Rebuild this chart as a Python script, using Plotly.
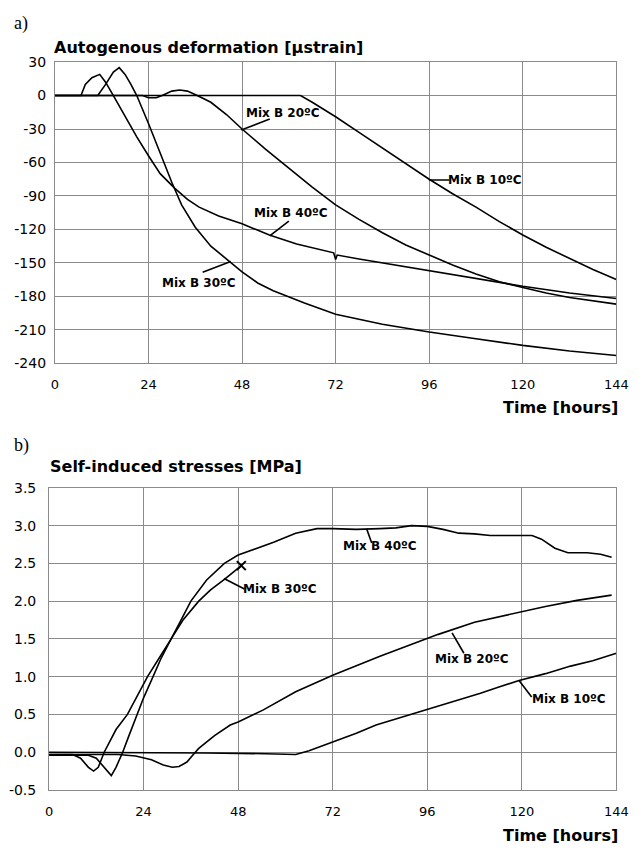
import plotly.graph_objects as go

# ---------------- Data: a) Autogenous deformation [µstrain] ----------------
t_def_10 = [0, 63, 66, 72, 78, 84, 90, 96, 102, 108, 114, 120, 126, 132, 138, 144]
def_10 = [0, 0, -6, -19, -33, -47, -61, -75, -88, -100, -113, -125, -136, -146, -156, -165]

t_def_20 = [0, 22.5, 24, 26, 27.5, 30, 32, 34, 36.5, 40, 44, 48, 54, 60, 66, 72, 78, 84,
            90, 96, 102, 108, 114, 120, 126, 132, 138, 144]
def_20 = [0, 0, -2, -2, 0, 4, 5, 4, 0, -6, -17, -30, -48, -65, -82, -98, -111, -123,
          -134, -143, -152, -160, -167, -172, -177, -181, -184, -187]

t_def_30 = [0, 11, 13, 15, 16.5, 18, 19.5, 21, 24, 27, 30, 32.5, 36, 40, 45, 48, 52, 56,
            64, 72, 84, 96, 108, 120, 132, 144]
def_30 = [0, 0, 10, 21, 25, 19, 10, 0, -25, -52, -78, -98, -118, -135, -149, -158, -168, -175,
          -186, -196, -205, -212, -218, -224, -229, -233]

t_def_40 = [0, 6.7, 7.8, 9.5, 11.5, 13, 15, 18, 21, 24, 27, 30.7, 34, 37, 42, 48, 55, 62,
            70, 71.5, 72, 72.4, 78, 84, 96, 108, 120, 132, 144]
def_40 = [0, 0, 10, 16, 19, 12, 0, -19, -37, -54, -70, -83, -93, -100, -108, -115, -125, -133,
          -140, -141, -147, -143, -146.5, -150, -157, -164, -171, -177, -182]

# ---------------- Data: b) Self-induced stresses [MPa] ----------------
t_str_10 = [0, 20, 40, 55, 62.6, 66, 72, 78, 83, 90, 95.5, 102, 109.5, 114, 119.3, 126,
            132.4, 138, 144]
str_10 = [0.0, 0.0, -0.01, -0.02, -0.03, 0.02, 0.13, 0.25, 0.36, 0.47, 0.56, 0.66, 0.78,
          0.86, 0.95, 1.04, 1.14, 1.21, 1.31]

t_str_20 = [0, 17.5, 22, 26, 29, 31.3, 33, 35, 36.3, 38, 42, 46, 48, 54.4, 62.6, 72, 84,
            95.5, 98.8, 108, 120, 126, 134, 142.8]
str_20 = [-0.03, -0.03, -0.05, -0.1, -0.17, -0.2, -0.19, -0.13, -0.05, 0.05, 0.22, 0.36,
          0.40, 0.56, 0.80, 1.02, 1.27, 1.49, 1.56, 1.72, 1.86, 1.93, 2.01, 2.08]

t_str_30 = [0, 10, 12, 14, 15.8, 17, 18.7, 20, 22, 24, 26.4, 28.5, 31, 34, 38, 41, 44.6, 48.8]
str_30 = [-0.04, -0.04, -0.08, -0.2, -0.31, -0.2, 0.0, 0.18, 0.45, 0.72, 1.0, 1.25, 1.5,
          1.75, 2.0, 2.15, 2.29, 2.47]

t_str_40 = [0, 6, 8, 10, 11.3, 12.5, 14, 17, 19.9, 22.5, 25, 28, 31, 33.5, 36, 40, 44.5,
            48, 52.8, 57, 62.6, 68, 72, 78, 84, 88, 92, 96, 100, 104, 108, 112, 118, 122.6,
            125, 128.4, 131.7, 136.6, 140, 142.8]
str_40 = [-0.03, -0.03, -0.08, -0.2, -0.25, -0.2, 0.0, 0.3, 0.5, 0.75, 1.0, 1.25, 1.5,
          1.75, 2.0, 2.28, 2.5, 2.61, 2.70, 2.78, 2.90, 2.96, 2.96, 2.95, 2.96, 2.97, 3.0,
          2.99, 2.95, 2.90, 2.89, 2.87, 2.87, 2.87, 2.82, 2.70, 2.64, 2.64, 2.62, 2.58]

x_ticks = [0, 24, 48, 72, 96, 120, 144]
y_ticks_a = [30, 0, -30, -60, -90, -120, -150, -180, -210, -240]
y_ticks_b = [3.5, 3.0, 2.5, 2.0, 1.5, 1.0, 0.5, 0.0, -0.5]
y_text_a = ["30", "0", "-30", "-60", "-90", "-120", "-150", "-180", "-210", "-240"]
y_text_b = ["3.5", "3.0", "2.5", "2.0", "1.5", "1.0", "0.5", "0.0", "-0.5"]

series_a = [(t_def_10, def_10), (t_def_20, def_20), (t_def_30, def_30), (t_def_40, def_40)]
series_b = [(t_str_10, str_10), (t_str_20, str_20), (t_str_30, str_30), (t_str_40, str_40)]

# labels: text, text x, text y, pointer from (x0,y0) to (x1,y1)
labels_a = [
    ("Mix B 20ºC", 58.4, -15.8, 47.8, -30.8, 55.1, -21.1),
    ("Mix B 10ºC", 110.4, -75.7, 95.9, -75.7, 101.1, -75.7),
    ("Mix B 40ºC", 60.5, -105.6, 55.1, -125.8, 60.0, -112.6),
    ("Mix B 30ºC", 36.9, -168.0, 45.1, -148.7, 37.9, -158.4),
]
labels_b = [
    ("Mix B 40ºC", 83.9, 2.73, 80.6, 2.96, 81.9, 2.77),
    ("Mix B 30ºC", 58.6, 2.16, 44.4, 2.30, 49.6, 2.16),
    ("Mix B 20ºC", 107.4, 1.23, 102.3, 1.58, 105.3, 1.31),
    ("Mix B 10ºC", 132.0, 0.70, 119.3, 0.95, 122.5, 0.73),
]

# page is 642x856; body keeps its default 8px margin (top/left), so the figure
# is placed at (8, 8): it may reach the right page edge, but not the bottom one.
OFF = 8
W, H = 642 - OFF, 856 - 2 * OFF
FONT = "DejaVu Sans, Arial, sans-serif"
SERIF = "Liberation Serif, Times New Roman, serif"
GRID = "#8a8a8a"

fig = go.Figure()
for t, v in series_a:
    fig.add_trace(go.Scatter(x=t, y=v, mode="lines", xaxis="x", yaxis="y",
                             line=dict(color="black", width=1.6), hoverinfo="skip"))
for t, v in series_b:
    fig.add_trace(go.Scatter(x=t, y=v, mode="lines", xaxis="x2", yaxis="y2",
                             line=dict(color="black", width=1.6), hoverinfo="skip"))
# X marker at end of 30 ºC stress curve
fig.add_trace(go.Scatter(x=[t_str_30[-1]], y=[str_30[-1]], mode="markers", xaxis="x2", yaxis="y2",
                         marker=dict(symbol="x-thin-open", size=9, color="black",
                                     line=dict(color="black", width=2)),
                         hoverinfo="skip"))

def px_x(p):
    return (p - OFF) / W

def px_y(p):
    return 1 - (p - OFF) / H

axis_common = dict(showgrid=True, gridcolor=GRID, gridwidth=1, showline=True, linecolor=GRID,
                   linewidth=1, mirror=True, zeroline=False, ticks="outside",
                   tickcolor="rgba(0,0,0,0)")
yfont = dict(family=FONT, size=14, color="black")
xfont = dict(family=FONT, size=13, color="black")

fig.update_layout(
    width=W, height=H, margin=dict(l=0, r=0, t=0, b=0),
    paper_bgcolor="white", plot_bgcolor="white", showlegend=False,
    xaxis=dict(domain=[px_x(52), px_x(628)], range=[0, 144], tickvals=x_ticks, anchor="y",
               ticklen=9, tickfont=xfont, **axis_common),
    yaxis=dict(domain=[px_y(362), px_y(55)], range=[-240, 30], tickvals=y_ticks_a,
               ticktext=y_text_a, anchor="x", ticklen=5, tickfont=yfont, **axis_common),
    xaxis2=dict(domain=[px_x(46), px_x(628)], range=[0, 144], tickvals=x_ticks, anchor="y2",
                ticklen=9, tickfont=xfont, **axis_common),
    yaxis2=dict(domain=[px_y(797), px_y(489)], range=[-0.5, 3.5], tickvals=y_ticks_b,
                ticktext=y_text_b, anchor="x2", ticklen=9, tickfont=yfont, **axis_common),
)

annotations = []
shapes = []

def add_text(text, x, y, size, bold=False, xanchor="left", family=FONT):
    annotations.append(dict(text=f"<b>{text}</b>" if bold else text, x=x, y=y, xref="paper",
                            yref="paper", xanchor=xanchor, yanchor="middle", showarrow=False,
                            font=dict(family=family, size=size, color="black")))

add_text("a)", px_x(8), px_y(16), 18, family=SERIF)
add_text("Autogenous deformation [µstrain]", px_x(49), px_y(40), 16, bold=True)
add_text("Time [hours]", px_x(632), px_y(407), 16, bold=True, xanchor="right")
add_text("b)", px_x(8), px_y(446), 18, family=SERIF)
add_text("Self-induced stresses [MPa]", px_x(45), px_y(467), 16, bold=True)
add_text("Time [hours]", px_x(632), px_y(843), 16, bold=True, xanchor="right")

for (labels, xr, yr) in [(labels_a, "x", "y"), (labels_b, "x2", "y2")]:
    for text, tx, ty, x0, y0, x1, y1 in labels:
        annotations.append(dict(text=f"<b>{text}</b>", x=tx, y=ty, xref=xr, yref=yr,
                                xanchor="center", yanchor="middle", showarrow=False,
                                font=dict(family=FONT, size=12, color="black")))
        shapes.append(dict(type="line", x0=x0, y0=y0, x1=x1, y1=y1, xref=xr, yref=yr,
                           line=dict(color="black", width=1.6)))

fig.update_layout(annotations=annotations, shapes=shapes)

fig.write_html("out.html", config={"displayModeBar": False})
